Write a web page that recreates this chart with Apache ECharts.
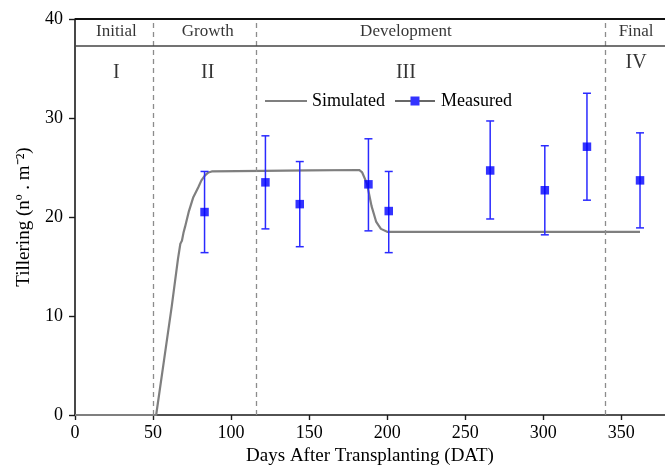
<!DOCTYPE html>
<html>
<head>
    <meta http-equiv="Content-Type" content="text/html; charset=UTF-8">
    <title>Tillering</title>
    <script type="text/javascript" src="https://cdn.jsdelivr.net/npm/echarts@6/dist/echarts.min.js"></script>
    <style>
        html, body { margin: 0; padding: 0; background: #fff; }
    </style>
</head>
<body>
    <div id="main" style="width: 665px;height:471px;"></div>
    <script type="text/javascript">
        // simulated curve (day, tillers)
        var simDays = [0, 52, 57, 62, 66, 67.5, 68.5, 69.5, 70.5, 73, 75.8, 79, 81, 83.3, 85.5, 87.6, 120, 150, 182, 184, 187, 190, 193, 196, 200, 250, 362];
        var simVals = [0, 0, 5.5, 11, 15.8, 17.3, 17.6, 18.4, 19, 20.6, 22, 23, 23.7, 24.2, 24.5, 24.6, 24.65, 24.7, 24.75, 24.5, 23.4, 21.1, 19.5, 18.8, 18.5, 18.5, 18.5];

        // measured points with error bars
        var measDays = [83, 122, 144, 188, 201, 266, 301, 328, 362];
        var measVals = [20.5, 23.5, 21.3, 23.3, 20.6, 24.7, 22.7, 27.1, 23.7];
        var measLow = [16.4, 18.8, 17.0, 18.6, 16.4, 19.8, 18.2, 21.7, 18.9];
        var measHigh = [24.6, 28.2, 25.6, 27.9, 24.6, 29.7, 27.2, 32.5, 28.5];

        // stages
        var stageBounds = [50, 116, 340];
        var stageNames = ['Initial', 'Growth', 'Development', 'Final'];
        var stageRoman = ['I', 'II', 'III', 'IV'];
        var stageCenters = [26.5, 85, 212, 359.5];
        var headerLine = 37.3;
        var nameY = 38.75;
        var romanY = [34.6, 34.6, 34.6, 35.6];

        var xTicks = [0, 50, 100, 150, 200, 250, 300, 350];

        var font = 'Liberation Serif';
        var axisColor = '#1a1a1a';

        var simData = [];
        for (var i = 0; i < simDays.length; i++) simData.push([simDays[i], simVals[i]]);
        var measData = [];
        var errData = [];
        for (var i = 0; i < measDays.length; i++) {
            measData.push([measDays[i], measVals[i]]);
            errData.push([measDays[i], measLow[i], measHigh[i]]);
        }
        var nameData = [];
        var romanData = [];
        for (var i = 0; i < stageNames.length; i++) {
            nameData.push({value: [stageCenters[i], nameY], label: {formatter: stageNames[i]}});
            romanData.push({value: [stageCenters[i], romanY[i]], label: {formatter: stageRoman[i]}});
        }
        var boundLines = [];
        for (var i = 0; i < stageBounds.length; i++) boundLines.push({xAxis: stageBounds[i]});

        var measIcon = 'image://data:image/svg+xml;utf8,' + encodeURIComponent(
            '<svg xmlns="http://www.w3.org/2000/svg" width="40" height="12">' +
            '<line x1="0" y1="6" x2="40" y2="6" stroke="#000" stroke-width="1.6"/>' +
            '<rect x="15.5" y="1.5" width="9" height="9" fill="#0000ff"/></svg>');

        var myChart = echarts.init(document.getElementById('main'));
        myChart.setOption({
            animation: false,
            textStyle: {fontFamily: font},
            grid: {left: 75, right: 0, top: 19, bottom: 49},
            legend: {
                left: 260, top: 87,
                itemGap: 9,
                textStyle: {fontFamily: font, fontSize: 18, color: '#000'},
                data: [
                    {name: 'Simulated', icon: 'path://M0,5 L40,5 L40,6.8 L0,6.8 Z', itemStyle: {color: '#7f7f7f'}},
                    {name: 'Measured', icon: measIcon}
                ],
                itemWidth: 42, itemHeight: 12
            },
            xAxis: {
                type: 'value', min: 0, max: 378, interval: 50,
                name: 'Days After Transplanting (DAT)',
                nameLocation: 'middle', nameGap: 32,
                nameTextStyle: {fontFamily: font, fontSize: 19, color: '#000'},
                axisLine: {onZero: false, lineStyle: {color: axisColor, width: 1.6}},
                axisTick: {inside: false, length: 5, lineStyle: {color: axisColor, width: 1.4}, customValues: xTicks},
                axisLabel: {fontFamily: font, fontSize: 18, color: '#000', margin: 9, customValues: xTicks},
                splitLine: {show: false}
            },
            yAxis: {
                type: 'value', min: 0, max: 40, interval: 10,
                name: 'Tillering (nº . m⁻²)',
                nameLocation: 'middle', nameGap: 41, nameRotate: 90,
                nameTextStyle: {fontFamily: font, fontSize: 19, color: '#000'},
                axisLine: {show: true, lineStyle: {color: axisColor, width: 1.6}},
                axisTick: {show: true, inside: false, length: 6, lineStyle: {color: axisColor, width: 1.4}},
                axisLabel: {fontFamily: font, fontSize: 18, color: '#000', margin: 12},
                splitLine: {show: false}
            },
            series: [
                {
                    name: 'Simulated', type: 'line', data: simData,
                    symbol: 'none', z: 3,
                    lineStyle: {color: '#7f7f7f', width: 2.2},
                    itemStyle: {color: '#7f7f7f'},
                    markLine: {
                        silent: true, symbol: 'none', animation: false,
                        label: {show: false},
                        lineStyle: {color: '#8c8c8c', type: [5, 4], width: 1.3},
                        data: boundLines
                    }
                },
                {
                    name: 'frame', type: 'line', data: [],
                    markLine: {
                        silent: true, symbol: 'none', animation: false,
                        label: {show: false},
                        data: [
                            {yAxis: headerLine, lineStyle: {color: '#444', type: 'solid', width: 1.6}},
                            {yAxis: 40, lineStyle: {color: '#111', type: 'solid', width: 2}}
                        ]
                    }
                },
                {
                    name: 'errors', type: 'custom', data: errData, z: 4,
                    renderItem: function (params, api) {
                        var x = api.value(0);
                        var lo = api.coord([x, api.value(1)]);
                        var hi = api.coord([x, api.value(2)]);
                        var w = 4;
                        var st = {stroke: '#2a2aff', lineWidth: 1.5};
                        return {
                            type: 'group',
                            children: [
                                {type: 'line', shape: {x1: lo[0], y1: lo[1], x2: hi[0], y2: hi[1]}, style: st},
                                {type: 'line', shape: {x1: lo[0] - w, y1: lo[1], x2: lo[0] + w, y2: lo[1]}, style: st},
                                {type: 'line', shape: {x1: hi[0] - w, y1: hi[1], x2: hi[0] + w, y2: hi[1]}, style: st}
                            ]
                        };
                    }
                },
                {
                    name: 'Measured', type: 'scatter', data: measData, z: 5,
                    symbol: 'rect', symbolSize: 8.5,
                    itemStyle: {color: '#0000ff'}
                },
                {
                    name: 'stageNames', type: 'scatter', data: nameData, symbolSize: 0,
                    label: {show: true, position: 'inside', fontFamily: font, fontSize: 17, color: '#000'}
                },
                {
                    name: 'stageRoman', type: 'scatter', data: romanData, symbolSize: 0,
                    label: {show: true, position: 'inside', fontFamily: font, fontSize: 20, color: '#000'}
                }
            ]
        });
    </script>
</body>
</html>
